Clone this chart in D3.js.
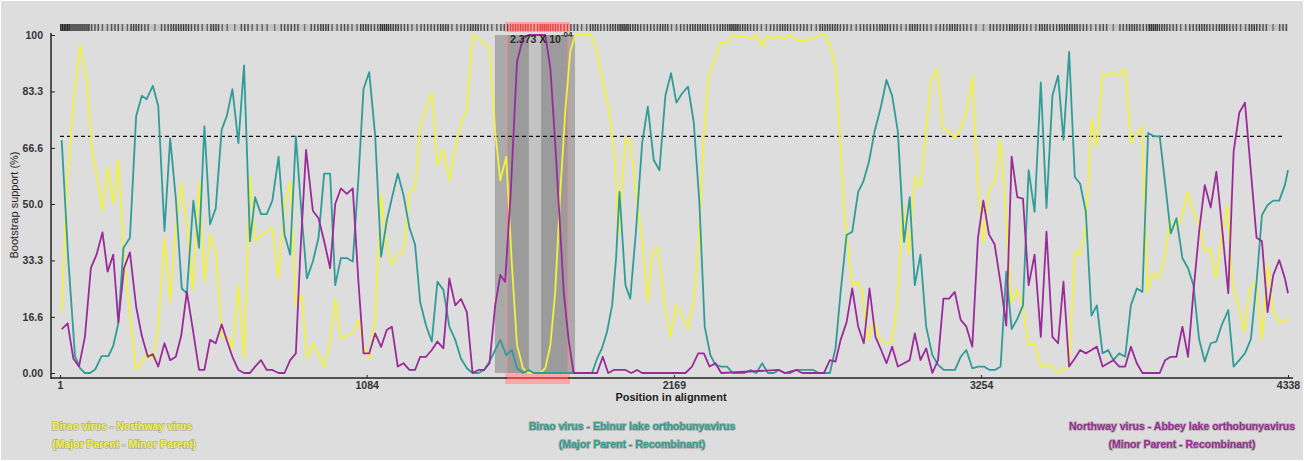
<!DOCTYPE html>
<html>
<head>
<meta charset="utf-8">
<script src="https://cdn.jsdelivr.net/npm/d3@7"></script>
<style>
  body { margin: 0; background: #ffffff; }
  svg text { font-family: Arial, "Liberation Sans", sans-serif; }
</style>
</head>
<body>
<svg id="chart" width="1304" height="461"></svg>
<script>
// axis ticks
var yTicks = [0, 16.6, 33.3, 50, 66.6, 83.3, 100];
var yTickLabels = ["0.00", "16.6", "33.3", "50.0", "66.6", "83.3", "100"];
var xTicks = [1, 1084, 2169, 3254, 4338];
var threshold = 70;

// recombination event
var breakpoints = [1580, 1795];
var pValue = ["2.373 X 10", "-04"];
var bands = [
    {start: 1537, end: 1820, shade: "#aaaaaa"},
    {start: 1580, end: 1657, shade: "#9b9b9b"},
    {start: 1657, end: 1700, shade: "#c3c3c3"},
    {start: 1700, end: 1795, shade: "#9b9b9b"}
];

// informative sites along the alignment (ticks per bin)
var siteBins = [6,5,5,3,2,3,2,4,3,1,3,4,4,3,2,4,2,1,3,2,2,1,3,3,1,
    3,4,2,3,2,4,3,5,4,3,2,3,3,4,2,3,4,3,2,3,
    4,4,3,5,4,3,
    3,2,4,3,4,5,4,3,3,4,2,3,4,4,3,4,5,4,3,2,3,4,3,3,2,4,4,3,2,3,
    3,4,3,2,4,3,2,3,4,3,2,1,3,3,4,3,2,4,3,4,4,3,2,3,1,3,4,3,5,4,3,2,3,4,3,4,3,2,4,3,1,3];

// Birao virus - Northway virus (yellow)
var biraoNorthway = [[7,18],[24,53.6],[48,80],[72,97],[95,87],[113,67],[130,58.6],[151,48],[169,61],[189,50],
    [207,63],[227,34],[248,17],[270,1],[290,3.4],[311,5.8],[329,4.3],[348,14],[370,40],[390,21],
    [410,43],[429,56],[449,44],[470,24.6],[492,56.6],[511,27],[531,41],[551,36],[572,11],[592,10.7],
    [610,7.3],[631,26],[651,4.3],[672,58],[690,39],[711,40.8],[731,41.8],[751,43],[773,28],[794,50],
    [814,56.6],[834,20],[855,23],[873,4.3],[894,8.8],[914,5.3],[934,1.9],[955,9.8],[973,22],[993,9.8],
    [1014,11],[1035,12],[1055,15.7],[1073,8.3],[1093,4.3],[1114,16],[1135,52.7],[1155,37],[1173,32],[1194,35],
    [1214,36],[1235,53.6],[1255,55],[1273,73],[1294,78],[1314,83],[1334,61.5],[1355,66],[1376,57],[1397,66.6],
    [1417,74],[1438,78],[1458,100],[1479,99],[1499,97.6],[1518,96],[1538,71.5],[1556,57],[1577,64],[1597,32],
    [1615,8.3],[1636,1.4],[1656,0],[1674,0],[1697,0],[1715,1.4],[1733,8.3],[1750,24],[1768,53.6],[1786,78],
    [1803,95],[1821,100],[1839,100],[1856,100],[1874,100],[1892,97],[1909,90],[1927,83],[1945,75],[1962,61.5],
    [1974,41],[1998,69.4],[2015,69],[2035,53.6],[2057,39],[2077,21],[2094,36],[2113,37],[2136,20],[2157,10.7],
    [2177,20],[2198,17],[2219,13],[2239,22],[2257,39],[2275,70.4],[2292,88],[2316,93],[2336,98],[2357,97.5],
    [2377,100],[2398,99.5],[2418,99.5],[2440,99],[2460,100],[2481,96.6],[2501,100],[2522,99],[2540,99.5],[2561,99],
    [2581,100],[2602,98.5],[2622,98.2],[2642,98.5],[2663,99.2],[2685,100],[2705,100],[2725,95.6],[2740,90],[2755,70.4],
    [2770,47.7],[2787,35],[2799,26],[2817,27],[2834,24],[2854,9.8],[2876,15],[2897,10],[2917,8.8],[2938,8.8],
    [2958,21],[2978,49.7],[2999,35.4],[3020,58],[3040,55],[3058,70.4],[3078,87],[3099,90],[3119,72.4],[3141,71.5],
    [3161,69.4],[3182,72.4],[3202,77.3],[3223,88],[3243,54.6],[3262,38.4],[3282,54.6],[3302,56.6],[3323,69],[3341,47.7],
    [3361,21],[3382,24.6],[3402,19.5],[3421,8.3],[3441,8.8],[3465,1.9],[3482,2.4],[3506,1.9],[3526,0],[3545,0.9],
    [3565,1.9],[3585,36],[3604,35],[3624,43],[3644,75],[3663,67],[3683,88.7],[3703,87.7],[3721,89],[3742,88],
    [3763,90],[3783,68],[3800,70.4],[3822,73],[3842,24],[3859,29.5],[3881,28],[3901,34],[3921,45],[3942,43],
    [3962,45.8],[3983,53.6],[4003,47.7],[4024,44],[4042,36],[4062,37],[4083,28],[4103,40],[4124,49.7],[4142,26],
    [4163,19.5],[4183,12.2],[4203,25],[4224,27],[4246,10],[4266,32],[4286,18],[4307,15],[4330,15.6],[4338,16.6]];

// Birao virus - Ebinur lake orthobunyavirus (teal)
var biraoEbinur = [[7,68.9],[30,34],[54,5],[72,1.4],[89,0],[107,0],[125,1],[148,5],[172,5],[189,8],
    [207,14.7],[225,37],[248,40],[270,76],[290,82],[307,81],[329,85],[348,79],[370,42],[390,69.4],
    [410,51.7],[431,25],[449,23.6],[472,51],[492,37],[511,73],[531,44],[551,48.7],[572,72],[590,76],
    [610,84],[631,68],[651,91],[672,39],[690,52],[711,47],[731,47],[751,51],[773,64],[794,41],
    [814,35],[834,70],[855,46],[873,28],[894,33],[914,40],[934,59],[955,59],[973,26],[993,34],
    [1014,34],[1035,33],[1055,57.6],[1073,84],[1093,89],[1114,70.4],[1135,34.4],[1155,45],[1173,51.7],[1194,59],
    [1214,52.7],[1235,43],[1255,38],[1273,21],[1294,14],[1314,9.3],[1334,27],[1355,24.6],[1376,13.7],[1397,9.8],
    [1417,4.3],[1438,1.4],[1458,0],[1479,0],[1499,0.9],[1518,3.4],[1538,6.8],[1556,9.8],[1577,5.3],[1597,6.8],
    [1615,1.4],[1636,0],[1656,0.9],[1674,0],[1715,0],[1880,0],[1898,4.3],[1915,7.3],[1933,12.2],[1951,20],
    [1965,34],[1977,53.6],[1998,26],[2015,22],[2035,41.8],[2057,68],[2077,78.8],[2098,63],[2118,60],[2139,82],
    [2159,88.7],[2178,80],[2198,82.7],[2219,84.7],[2239,74.4],[2259,50.7],[2278,13.7],[2298,5.3],[2316,2.4],[2336,1.9],
    [2357,1.9],[2377,0],[2398,0],[2418,0],[2440,0.9],[2460,0],[2481,2.9],[2501,0],[2522,0],[2540,0.9],
    [2561,0],[2581,0],[2602,0.9],[2622,0.9],[2642,0.9],[2661,0.9],[2681,0],[2699,0],[2720,0],[2740,7.3],
    [2758,24],[2779,40.8],[2799,41.8],[2820,53.6],[2838,56.6],[2858,62.5],[2878,71.5],[2899,78.3],[2920,86.7],[2940,82],
    [2960,71.5],[2982,38.8],[3002,52],[3020,26],[3040,35],[3060,13.7],[3082,5.3],[3102,2.4],[3123,0.9],[3143,0.9],
    [3162,0.9],[3182,4.8],[3202,6.8],[3223,1.4],[3243,1.9],[3264,1.9],[3284,0.9],[3303,0.9],[3323,1.9],[3343,30],
    [3362,13],[3382,16],[3402,20],[3422,60],[3443,47.7],[3465,86],[3485,48.8],[3506,82],[3526,88],[3545,69],
    [3565,95],[3585,58],[3604,56],[3624,47.7],[3644,17],[3663,20],[3683,5.8],[3703,6.8],[3721,3.8],[3742,5.8],
    [3763,4.8],[3783,20],[3804,25],[3824,24],[3844,71],[3865,70],[3885,70],[3904,56],[3924,41.3],[3944,45.8],
    [3965,34],[3985,31],[4004,26],[4024,10],[4044,3.4],[4065,8.8],[4085,9.3],[4104,14.2],[4127,18.6],[4146,1.9],
    [4166,3.8],[4186,5.8],[4207,10],[4227,27],[4246,46.7],[4266,49.7],[4286,51],[4307,51],[4327,55.6],[4338,60]];

// Northway virus - Abbey lake orthobunyavirus (purple)
var northwayAbbey = [[7,13],[28,14.7],[48,4.3],[68,1.9],[89,10.7],[110,31],[130,35],[151,41.6],[169,30],[189,35],
    [207,15],[227,31],[248,35.7],[270,19.6],[290,11],[311,4.8],[329,5.6],[348,1.9],[370,8.8],[390,3.8],
    [410,4.8],[429,11],[449,24],[470,13],[492,0.9],[511,0.9],[531,9.8],[551,8.8],[572,14.4],[592,9.2],
    [610,4.8],[631,0.9],[651,0],[672,0],[690,1.9],[711,3.8],[731,0.9],[751,0.9],[773,0],[794,0],
    [814,3.8],[834,5.8],[849,34],[870,66],[894,48],[914,45.8],[934,39],[955,31],[973,50],[993,54.6],
    [1014,53],[1035,54.6],[1055,27],[1073,5.8],[1093,5.8],[1114,11.7],[1135,7.7],[1155,12.7],[1173,13.7],[1194,1.9],
    [1214,2.9],[1235,0.9],[1255,0.9],[1273,4.8],[1294,4.8],[1314,6.8],[1334,9.3],[1355,7.3],[1376,28],[1397,20],
    [1417,21.9],[1438,18],[1458,0],[1479,0.9],[1499,0.9],[1518,2.9],[1538,20],[1556,29],[1573,27],[1593,53.6],
    [1615,92],[1636,99],[1656,100],[1674,100],[1697,100],[1715,100],[1733,90],[1750,68],[1768,41.8],[1780,24],
    [1797,10],[1815,0],[1898,0],[1918,4.8],[1937,0],[1957,0.9],[1977,0.9],[1998,0.9],[2019,0],[2039,0.9],
    [2057,0],[2210,0],[2233,1.9],[2255,5.8],[2275,5.8],[2295,1.9],[2316,2.9],[2336,0],[2540,0.9],[2561,0],
    [2602,0.9],[2622,0],[2699,0],[2720,3.8],[2740,3.4],[2758,9.8],[2779,15],[2799,25],[2820,13.7],[2840,8.8],
    [2860,25],[2881,10.7],[2901,6.8],[2920,2.9],[2940,7.8],[2960,1.9],[2982,2.9],[3002,3.8],[3020,11.7],[3040,3.8],
    [3060,7.3],[3082,0],[3102,3.8],[3121,22],[3141,22],[3161,24],[3182,15.7],[3202,13.7],[3223,7.8],[3243,40],
    [3262,51],[3282,41],[3302,38],[3323,26.5],[3343,14],[3362,64],[3382,52],[3402,51.6],[3422,26],[3443,35],
    [3465,10.7],[3485,41.8],[3506,10.7],[3526,8.8],[3545,27],[3565,1.9],[3585,4.3],[3604,6.8],[3624,5.8],[3644,6.8],
    [3663,7.8],[3683,1.9],[3703,2.9],[3721,3.8],[3742,1.9],[3763,1.9],[3783,7.8],[3804,2.9],[3824,0],[3885,0],
    [3904,3.8],[3924,4.8],[3944,4.8],[3965,13.7],[3985,4.8],[4004,24],[4024,41.8],[4044,55.6],[4065,49],[4085,59.6],
    [4104,44],[4127,23.6],[4146,65.5],[4166,77],[4186,80],[4207,59.6],[4227,40],[4246,39],[4266,18],[4286,29],
    [4307,33.4],[4327,28],[4338,23.6]];

var legendLines = [
    ["Birao virus - Northway virus", "(Major Parent - Minor Parent)"],
    ["Birao virus - Ebinur lake orthobunyavirus", "(Major Parent - Recombinant)"],
    ["Northway virus - Abbey lake orthobunyavirus", "(Minor Parent - Recombinant)"]
];

var colors = ["#f2f23c", "#2f9c98", "#9a2a9a"];

var svg = d3.select("#chart");

svg.append("rect")
    .attr("x", 1).attr("y", 1)
    .attr("width", 1302).attr("height", 459)
    .attr("fill", "#dddddd");

var x = d3.scaleLinear().domain([1, 4338]).range([60, 1288]);
var y = d3.scaleLinear().domain([0, 100]).range([373, 35]);

// shaded confidence bands of the breakpoints
svg.selectAll("rect.band")
    .data(bands)
    .enter()
    .append("rect")
    .attr("class", "band")
    .attr("x", function (d) { return x(d.start); })
    .attr("width", function (d) { return x(d.end) - x(d.start); })
    .attr("y", y(100))
    .attr("height", y(0) - y(100))
    .attr("fill", function (d) { return d.shade; });

svg.selectAll("line.bp")
    .data(breakpoints)
    .enter()
    .append("line")
    .attr("class", "bp")
    .attr("x1", function (d) { return x(d); })
    .attr("x2", function (d) { return x(d); })
    .attr("y1", y(100))
    .attr("y2", y(0))
    .attr("stroke", "#f08a8a")
    .attr("stroke-width", 1);

// site strip on top
var binSize = (4338 - 1) / siteBins.length;
var strip = svg.append("g");
strip.append("rect")
    .attr("x", x(1)).attr("y", 24)
    .attr("width", x(4338) - x(1)).attr("height", 7)
    .attr("fill", "#c4c4c4");
strip.append("rect")
    .attr("x", x(breakpoints[0]) - 2).attr("y", 22)
    .attr("width", x(breakpoints[1]) - x(breakpoints[0]) + 4).attr("height", 10)
    .attr("fill", "#f8a4a4");
siteBins.forEach(function (n, i) {
    var p0 = 1 + i * binSize;
    var x0 = x(p0), w = x(p0 + binSize) - x0;
    var inside = p0 + binSize / 2 > breakpoints[0] && p0 + binSize / 2 < breakpoints[1];
    for (var k = 0; k < n; k++) {
        strip.append("line")
            .attr("x1", x0 + (k + 0.5) * w / n)
            .attr("x2", x0 + (k + 0.5) * w / n)
            .attr("y1", 24).attr("y2", 31)
            .attr("stroke", inside ? "#e62a2a" : "#1e1e1e")
            .attr("stroke-opacity", inside ? 0.85 : 0.4 + 0.1 * n)
            .attr("stroke-width", 1.4);
    }
});

// bottom breakpoint bar
svg.append("rect")
    .attr("x", x(breakpoints[0]) - 2).attr("y", 373)
    .attr("width", x(breakpoints[1]) - x(breakpoints[0]) + 4).attr("height", 11)
    .attr("fill", "#f9a9a9");

// threshold
svg.append("line")
    .attr("x1", x(1)).attr("x2", 1285)
    .attr("y1", y(threshold)).attr("y2", y(threshold))
    .attr("stroke", "#111")
    .attr("stroke-width", 1.2)
    .attr("stroke-dasharray", "4,3");

// series
var line = d3.line()
    .x(function (d) { return x(d[0]); })
    .y(function (d) { return y(d[1]); });

[biraoNorthway, biraoEbinur, northwayAbbey].forEach(function (data, i) {
    svg.append("path")
        .datum(data)
        .attr("d", line)
        .attr("fill", "none")
        .attr("stroke", colors[i])
        .attr("stroke-width", 1.8)
        .attr("stroke-linejoin", "round");
});

// p-value label
var pv = svg.append("text")
    .attr("x", x(breakpoints[0]) + 3)
    .attr("y", 43)
    .attr("font-size", "10.5px")
    .attr("font-weight", "bold")
    .attr("fill", "#2a2a2a");
pv.append("tspan").text(pValue[0]);
pv.append("tspan").attr("dy", -6).attr("font-size", "8px").text(pValue[1]);

// axes
var yAxis = d3.axisLeft(y)
    .tickValues(yTicks)
    .tickFormat(function (d, i) { return yTickLabels[i]; })
    .tickSize(-4)
    .tickPadding(8);
var gy = svg.append("g").attr("transform", "translate(51,0)").call(yAxis);
gy.select(".domain").remove();
gy.append("line").attr("x1", 0).attr("x2", 0).attr("y1", 33).attr("y2", 379)
    .attr("stroke", "#222").attr("stroke-width", 1.5);

var xAxis = d3.axisBottom(x)
    .tickValues(xTicks)
    .tickFormat(d3.format("d"))
    .tickSize(-3)
    .tickPadding(4);
var gx = svg.append("g").attr("transform", "translate(0,378)").call(xAxis);
gx.select(".domain").remove();
gx.append("line").attr("x1", 51).attr("x2", 1293).attr("y1", 0).attr("y2", 0)
    .attr("stroke", "#222").attr("stroke-width", 1.5);
gx.append("line").attr("x1", x(breakpoints[0])).attr("x2", x(breakpoints[1])).attr("y1", 0).attr("y2", 0)
    .attr("stroke", "#ff4a4a").attr("stroke-width", 1.5);

svg.selectAll(".tick text")
    .attr("font-size", "10.5px")
    .attr("font-weight", "bold")
    .attr("fill", "#333")
    .attr("font-family", "Arial, 'Liberation Sans', sans-serif");
svg.selectAll(".tick line").attr("stroke", "#222");

svg.append("text")
    .attr("transform", "translate(18,205) rotate(-90)")
    .attr("text-anchor", "middle")
    .attr("font-size", "11px")
    .attr("fill", "#222")
    .text("Bootstrap support (%)");

svg.append("text")
    .attr("x", 671).attr("y", 401)
    .attr("text-anchor", "middle")
    .attr("font-size", "11px")
    .attr("font-weight", "bold")
    .attr("fill", "#222")
    .text("Position in alignment");

// legends
var legendPos = [{x: 52, anchor: "start"}, {x: 632, anchor: "middle"}, {x: 1182, anchor: "middle"}];
legendLines.forEach(function (pair, i) {
    pair.forEach(function (txt, j) {
        svg.append("text")
            .attr("x", legendPos[i].x)
            .attr("y", 430 + j * 18)
            .attr("text-anchor", legendPos[i].anchor)
            .attr("font-size", "10.5px")
            .attr("font-weight", "bold")
            .attr("fill", colors[i])
            .attr("stroke", "rgba(90,90,60,0.35)")
            .attr("stroke-width", 1.6)
            .attr("paint-order", "stroke")
            .text(txt);
    });
});
</script>
</body>
</html>
